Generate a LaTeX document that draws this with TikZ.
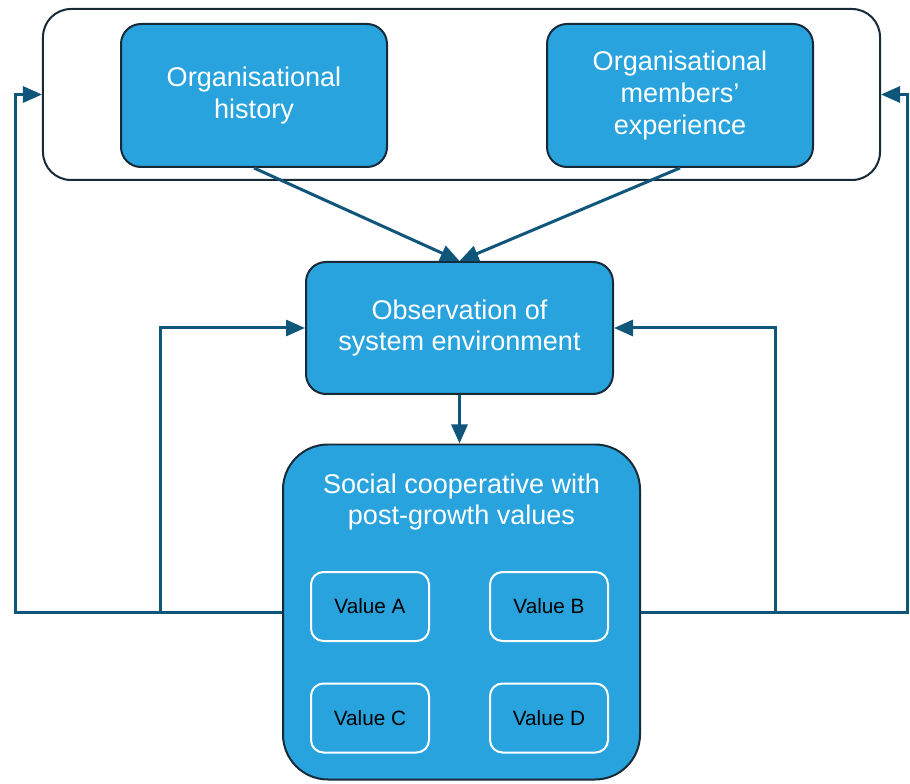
\documentclass[tikz,border=0pt]{standalone}
\usepackage{fontspec}
\setmainfont{Liberation Sans}
\usetikzlibrary{arrows.meta}
\definecolor{boxblue}{RGB}{41,163,221}
\definecolor{boxedge}{RGB}{22,42,56}
\definecolor{arrowblue}{RGB}{16,86,122}

\begin{document}
\begin{tikzpicture}[
    box/.style={draw=boxedge, line width=0.04cm, fill=boxblue, rounded corners=0.4cm,
      text=white, align=center, inner sep=0pt, font=\fontsize{15.4}{18.2}\selectfont},
    valuebox/.style={draw=white, line width=0.04cm, fill=boxblue, rounded corners=0.25cm,
      minimum width=2.36cm, minimum height=1.38cm, inner sep=0pt,
      text=black, font=\fontsize{11.8}{14}\selectfont},
    link/.style={draw=arrowblue, line width=0.06cm},
    arr/.style={link, -{Triangle[length=0.38cm,width=0.32cm]}}
  ]
  \useasboundingbox (0,0) rectangle (18.2,15.66);

  % Drawing frame round the two upper boxes
  \node [draw=boxedge, line width=0.04cm, fill=white, rounded corners=0.56cm,
         minimum width=16.74cm, minimum height=3.42cm] (frame) at (9.23,13.77) {};

  % Drawing box history
  \node [box, minimum width=5.32cm, minimum height=2.86cm] (hist) at (5.08,13.75)
        {Organisational\\history};

  % Drawing box members
  \node [box, minimum width=5.32cm, minimum height=2.86cm] (memb) at (13.60,13.75)
        {Organisational\\members'\\experience};

  % Drawing box observation
  \node [box, minimum width=6.14cm, minimum height=2.64cm] (obs) at (9.19,9.10)
        {Observation of\\system environment};

  % Drawing box cooperative
  \node [box, rounded corners=0.9cm, minimum width=7.14cm, minimum height=6.70cm] (coop) at (9.23,3.42) {};
  \node [text=white, align=center, font=\fontsize{15.4}{18.2}\selectfont] (cooptext) at (9.23,5.62)
        {Social cooperative with\\post-growth values};

  % Drawing value boxes
  \node [valuebox] (valA) at (7.40,3.53) {Value A};
  \node [valuebox] (valB) at (10.98,3.53) {Value B};
  \node [valuebox] (valC) at (7.40,1.30) {Value C};
  \node [valuebox] (valD) at (10.98,1.30) {Value D};

  % Corners of the feedback lines
  \coordinate (lout) at (0.30,3.42);
  \coordinate (lin) at (3.20,3.42);
  \coordinate (rin) at (15.50,3.42);
  \coordinate (rout) at (18.14,3.42);

  % Drawing arrows into observation
  \draw [arr] (hist.south) -- (obs.north);
  \draw [arr] (memb.south) -- (obs.north);
  \draw [arr] (obs.south) -- (obs.south |- coop.north);

  % Drawing feedback lines
  \draw [arr] (coop.west) -- (lout) |- (frame.west);
  \draw [arr] (coop.east) -- (rout) |- (frame.east);
  \draw [arr] (lin) |- (obs.west);
  \draw [arr] (rin) |- (obs.east);
\end{tikzpicture}
\end{document}
